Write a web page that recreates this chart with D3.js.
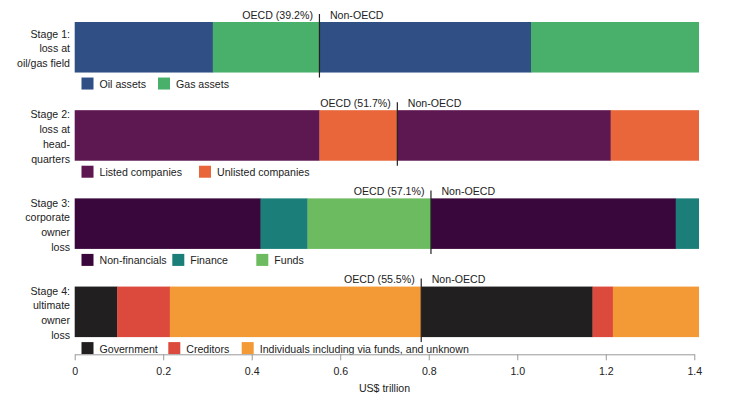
<!DOCTYPE html>
<html>
<head>
<meta charset="utf-8">
<script src="https://cdn.jsdelivr.net/npm/d3@7"></script>
<style>
  body { margin: 0; background: #fff; }
  svg text { font-family: "Liberation Sans", Arial, sans-serif; fill: #222; }
</style>
</head>
<body>
<svg width="730" height="404"></svg>
<script>
// stranded asset losses, by stage, split OECD / non-OECD

var stageLabels = [
    ['Stage 1:', 'loss at', 'oil/gas field'],
    ['Stage 2:', 'loss at', 'head-', 'quarters'],
    ['Stage 3:', 'corporate', 'owner', 'loss'],
    ['Stage 4:', 'ultimate', 'owner', 'loss']
];

var categories = [
    ['Oil assets', 'Gas assets'],
    ['Listed companies', 'Unlisted companies'],
    ['Non-financials', 'Finance', 'Funds'],
    ['Government', 'Creditors', 'Individuals including via funds, and unknown']
];

// US$ trillion, OECD part then non-OECD part
var oecdValues = [
    [0.312, 0.241],
    [0.553, 0.176],
    [0.420, 0.106, 0.279],
    [0.096, 0.119, 0.568]
];
var nonOecdValues = [
    [0.478, 0.379],
    [0.482, 0.199],
    [0.553, 0.052, 0],
    [0.387, 0.046, 0.194]
];

var oecdShares = ['39.2%', '51.7%', '57.1%', '55.5%'];

var xTicks = [0, 0.2, 0.4, 0.6, 0.8, 1.0, 1.2, 1.4];

// colours per stage (same order as categories)
var colors = [
    ['#2f4f85', '#48b06b'],
    ['#5d1751', '#e8663a'],
    ['#3a073c', '#1b7e78', '#6dbb60'],
    ['#221f20', '#dc4a3e', '#f39a37']
];

// legend square x offsets (layout only)
var legendX = [
    [81.5, 158],
    [81.5, 199],
    [81.5, 172.3, 256.3],
    [81.5, 168.3, 241.7]
];

var svg = d3.select('svg');
var fontSize = 10.6;

var xScale = d3.scaleLinear().domain([0, 1.4]).range([74.7, 694.3]);

var yScale = d3.scaleBand()
    .domain(d3.range(4))
    .range([22, 337.1])
    .paddingInner(0.427)
    .paddingOuter(0);

var bh = yScale.bandwidth();

stageLabels.forEach(function (lines, s) {
    var y0 = yScale(s);
    var g = svg.append('g');

    // build segments: oecd first, then non-oecd
    var segs = [];
    var acc = 0;
    oecdValues[s].forEach(function (v, i) {
        segs.push({ x0: acc, x1: acc + v, c: colors[s][i] });
        acc += v;
    });
    var oecdTotal = acc;
    nonOecdValues[s].forEach(function (v, i) {
        segs.push({ x0: acc, x1: acc + v, c: colors[s][i] });
        acc += v;
    });

    g.selectAll('rect.seg')
        .data(segs.filter(function (d) { return d.x1 > d.x0; }))
        .enter()
        .append('rect')
        .attr('class', 'seg')
        .attr('x', function (d) { return xScale(d.x0); })
        .attr('width', function (d) { return xScale(d.x1) - xScale(d.x0) + 0.3; })
        .attr('y', y0)
        .attr('height', bh)
        .attr('fill', function (d) { return d.c; });

    // stage label, right aligned
    var mid = y0 + bh / 2;
    g.selectAll('text.stage')
        .data(lines)
        .enter()
        .append('text')
        .attr('class', 'stage')
        .attr('x', 70)
        .attr('y', function (d, i) { return mid + (i - (lines.length - 1) / 2) * 14.7 + 1; })
        .attr('dominant-baseline', 'central')
        .attr('text-anchor', 'end')
        .style('font-size', fontSize + 'px')
        .text(function (d) { return d; });

    // OECD / non-OECD divider
    var xd = xScale(oecdTotal);
    g.append('line')
        .attr('x1', xd).attr('x2', xd)
        .attr('y1', y0 - 8).attr('y2', y0 + bh + 5)
        .attr('stroke', '#222')
        .attr('stroke-width', 1.2);

    g.append('text')
        .attr('x', xd - 6.5)
        .attr('y', y0 - 3.5)
        .attr('text-anchor', 'end')
        .style('font-size', fontSize + 'px')
        .text('OECD (' + oecdShares[s] + ')');

    g.append('text')
        .attr('x', xd + 10.5)
        .attr('y', y0 - 3.5)
        .style('font-size', fontSize + 'px')
        .text('Non-OECD');

    // legend
    var ly = y0 + bh + 5;
    var leg = g.selectAll('g.leg')
        .data(categories[s])
        .enter()
        .append('g')
        .attr('class', 'leg')
        .attr('transform', function (d, i) { return 'translate(' + legendX[s][i] + ',' + ly + ')'; });

    leg.append('rect')
        .attr('width', 12)
        .attr('height', 12)
        .attr('fill', function (d, i) { return colors[s][i]; });

    leg.append('text')
        .attr('x', 18)
        .attr('y', 6.5)
        .attr('dominant-baseline', 'central')
        .style('font-size', fontSize + 'px')
        .text(function (d) { return d; });
});

// x axis
var axisG = svg.append('g')
    .attr('transform', 'translate(0,354.3)')
    .call(d3.axisBottom(xScale)
        .tickValues(xTicks)
        .tickSize(6)
        .tickSizeOuter(0)
        .tickPadding(7)
        .tickFormat(function (d) { return d === 0 ? '0' : d.toFixed(1); }));

axisG.select('.domain').attr('stroke', '#999');
axisG.selectAll('.tick line').attr('stroke', '#999');
axisG.selectAll('.tick text')
    .style('font-size', fontSize + 'px')
    .style('font-family', '"Liberation Sans", Arial, sans-serif')
    .attr('fill', '#222');

svg.append('text')
    .attr('x', (xScale(0) + xScale(1.4)) / 2)
    .attr('y', 392)
    .attr('text-anchor', 'middle')
    .style('font-size', fontSize + 'px')
    .text('US$ trillion');
</script>
</body>
</html>
